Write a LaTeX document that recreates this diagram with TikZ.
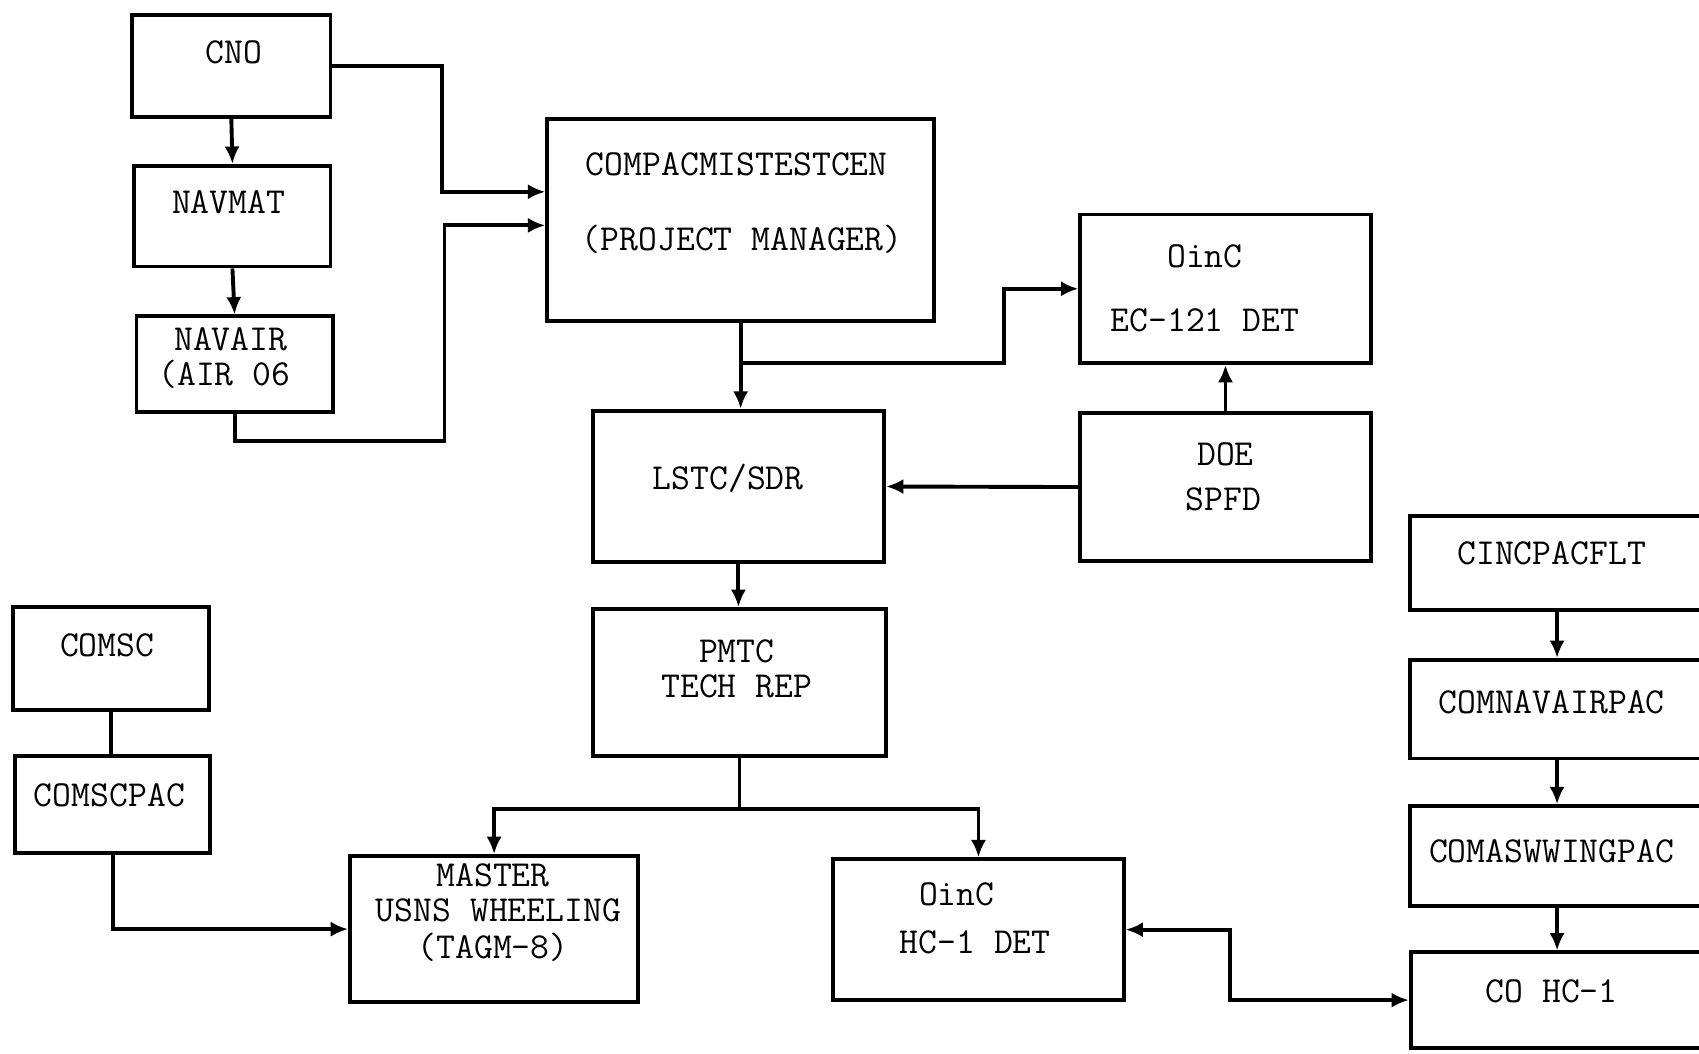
\documentclass[tikz,border=0pt]{standalone}
\usetikzlibrary{arrows.meta,fit,calc}
\begin{document}
\begin{tikzpicture}[x=0.5pt,y=-0.5pt,
  box/.style={draw, line width=1.8pt, inner sep=0pt, rectangle},
  lbl/.style={inner sep=0pt, font=\ttfamily\fontsize{16.9}{18}\selectfont},
  wire/.style={line width=1.8pt},
  arr/.style={wire, -{Latex[length=8pt,width=7pt]}},
  darr/.style={wire, {Latex[length=8pt,width=7pt]}-{Latex[length=8pt,width=7pt]}}]
\useasboundingbox (0,0) rectangle (1568,972);
\clip (0,0) rectangle (1568,972);
% boxes
\node[box, fit={(122,14)(305,108)}] (cno) {};
\node[box, fit={(124,153)(305,246)}] (navmat) {};
\node[box, fit={(126,292)(307,380)}] (navair) {};
\node[box, fit={(505,110)(862,296)}] (compac) {};
\node[box, fit={(997,198)(1265,335)}] (ec) {};
\node[box, fit={(997,381)(1265,518)}] (doe) {};
\node[box, fit={(547,379)(816,519)}] (lstc) {};
\node[box, fit={(547,562)(818,698)}] (pmtc) {};
\node[box, fit={(323,790)(589,925)}] (master) {};
\node[box, fit={(769,793)(1037,923)}] (hcdet) {};
\node[box, fit={(12,560)(193,655)}] (comsc) {};
\node[box, fit={(14,698)(194,787)}] (comscpac) {};
\node[box, fit={(1301,476)(1573,563)}] (cinc) {};
\node[box, fit={(1301,609)(1573,700)}] (comnav) {};
\node[box, fit={(1301,744)(1573,836)}] (comasw) {};
\node[box, fit={(1302,879)(1573,967)}] (cohc) {};
% texts
\node[lbl] (t1) at (216,48) {CNO};
\node[lbl] (t2) at (211,187) {NAVMAT};
\node[lbl] (t3) at (213,313) {NAVAIR};
\node[lbl] (t4) at (207,345) {(AIR 06};
\node[lbl] (t5) at (680,152) {COMPACMISTESTCEN};
\node[lbl] (t6) at (685,221) {(PROJECT MANAGER)};
\node[lbl] (t7) at (1112,237) {OinC};
\node[lbl] (t8) at (1112,296) {EC-121 DET};
\node[lbl] (t9) at (1131,419) {DOE};
\node[lbl] (t10) at (1129,461) {SPFD};
\node[lbl] (t11) at (672,441) {LSTC/SDR};
\node[lbl] (t12) at (680,601) {PMTC};
\node[lbl] (t13) at (680,633) {TECH REP};
\node[lbl] (t14) at (455,808) {MASTER};
\node[lbl] (t15) at (460,840) {USNS WHEELING};
\node[lbl] (t16) at (455,874) {(TAGM-8)};
\node[lbl] (t17) at (883,825) {OinC};
\node[lbl] (t18) at (900,870) {HC-1 DET};
\node[lbl] (t19) at (99,596) {COMSC};
\node[lbl] (t20) at (101,734) {COMSCPAC};
\node[lbl] (t21) at (1432,511) {CINCPACFLT};
\node[lbl] (t22) at (1432,648) {COMNAVAIRPAC};
\node[lbl] (t23) at (1432,786) {COMASWWINGPAC};
\node[lbl] (t24) at (1432,915) {CO HC-1};
% connectors
\draw[arr] (cno.south) -- (navmat.north);
\draw[arr] (navmat.south) -- (navair.north);
\draw[arr] (cno.east) -| ($(compac.west)+(-95,-26)$) -- ($(compac.west)+(0,-26)$);
\draw[arr] (navair.south) -- ($(navair.south)+(0,25)$) -| ($(compac.west)+(-93,5)$) -- ($(compac.west)+(0,5)$);
\draw[arr] (compac.south) -- (compac.south |- lstc.north);
\coordinate (j1) at ($(compac.south)+(0,37)$);
\draw[arr] (j1) -| ($(ec.west)+(-69,0)$) -- (ec.west);
\draw[arr] (doe.north) -- (ec.south);
\draw[arr] (doe.west) -- (lstc.east);
\draw[arr] (lstc.south) -- (lstc.south |- pmtc.north);
\coordinate (j2) at ($(pmtc.south)+(0,47)$);
\draw[wire] (pmtc.south) -- (j2);
\draw[arr] (j2) -| (master.north);
\draw[arr] (j2) -| (hcdet.north);
\draw[wire] (comsc.south) -- (comsc.south |- comscpac.north);
\draw[arr] (comscpac.south) |- (master.west);
\draw[darr] (hcdet.east) -- ($(hcdet.east)+(96,0)$) |- (cohc.west);
\draw[arr] (cinc.south) -- (comnav.north);
\draw[arr] (comnav.south) -- (comasw.north);
\draw[arr] (comasw.south) -- (comasw.south |- cohc.north);
\end{tikzpicture}
\end{document}
